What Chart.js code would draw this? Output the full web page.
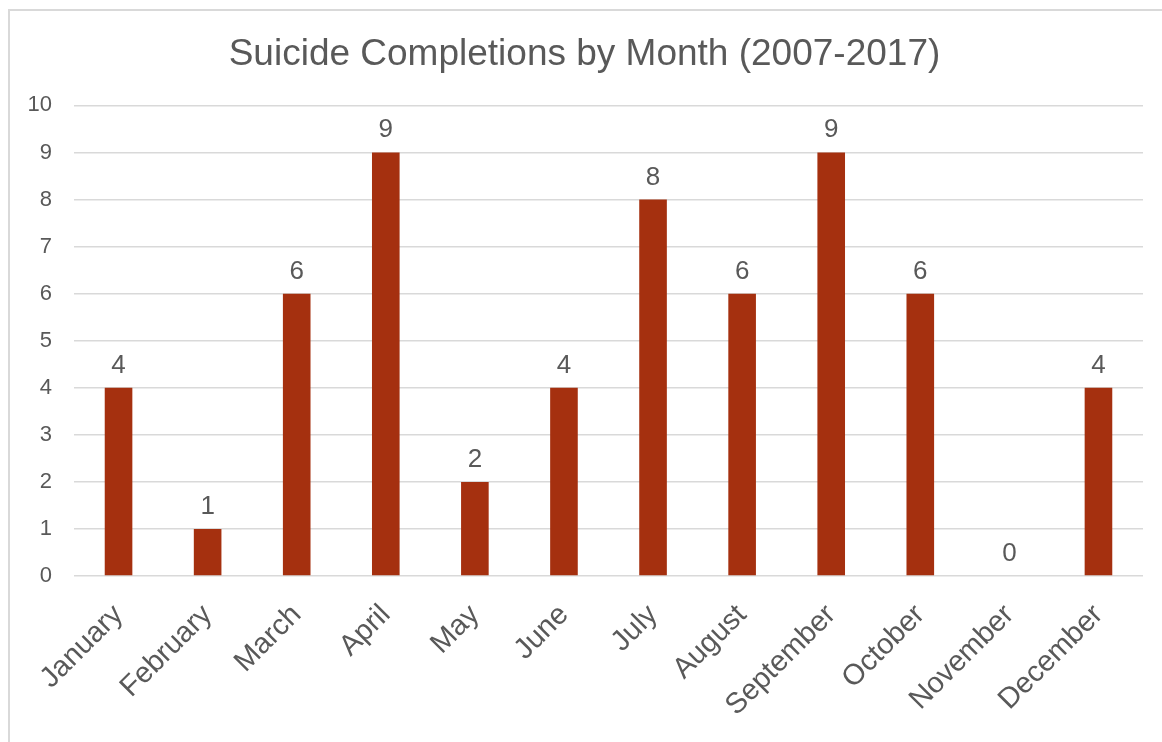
<!DOCTYPE html>
<html>
<head>
<meta charset="utf-8">
<title>Suicide Completions by Month</title>
<script src="https://cdn.jsdelivr.net/npm/chart.js@4/dist/chart.umd.min.js"></script>
<style>
    html, body { margin: 0; padding: 0; background: #fff; }
    #marco {
        position: absolute; left: 8px; top: 9px; width: 1170px; height: 760px;
        border-left: 2px solid #d9d9d9; border-top: 2px solid #d9d9d9;
    }
    #grafico { position: absolute; left: 0; top: 0; }
</style>
</head>
<body>
<div id="marco"></div>
<canvas id="grafico" width="1162" height="742"></canvas>
<script>
// ── Datos ─────────────────────────────────────────────────────────────────
var months = ['January', 'February', 'March', 'April', 'May', 'June',
              'July', 'August', 'September', 'October', 'November', 'December'];
var completions = [4, 1, 6, 9, 2, 4, 8, 6, 9, 6, 0, 4];
var yMin = 0, yMax = 10, yStep = 1;

var FUENTE = '"Liberation Sans", Arial, Helvetica, sans-serif';
var GRIS_TXT = '#595959';

// ── Etiquetas encima de cada barra ────────────────────────────────────────
var etiquetasBarras = {
    id: 'etiquetasBarras',
    afterDatasetsDraw: function (chart) {
        var ctx = chart.ctx;
        var meta = chart.getDatasetMeta(0);
        ctx.save();
        ctx.fillStyle = GRIS_TXT;
        ctx.font = '26px ' + FUENTE;
        ctx.textAlign = 'center';
        ctx.textBaseline = 'alphabetic';
        meta.data.forEach(function (bar, i) {
            ctx.fillText(String(completions[i]), bar.x, bar.y - 15);
        });
        ctx.restore();
    }
};

new Chart(document.getElementById('grafico').getContext('2d'), {
    type: 'bar',
    data: {
        labels: months,
        datasets: [{
            label: 'Completions',
            data: completions,
            backgroundColor: '#A5300F',
            borderWidth: 0,
            barPercentage: 0.31,
            categoryPercentage: 1
        }]
    },
    options: {
        responsive: false,
        animation: false,
        // padding izquierdo: acerca el centro del título al del original
        layout: { padding: { left: 26, right: 19, top: 0, bottom: 0 } },
        plugins: {
            legend: { display: false },
            tooltip: { enabled: false },
            title: {
                display: true,
                text: 'Suicide Completions by Month (2007-2017)',
                color: GRIS_TXT,
                font: { family: FUENTE, size: 37, weight: 'normal' },
                padding: { top: 33, bottom: 28 }
            }
        },
        scales: {
            x: {
                grid: { display: false, drawTicks: false },
                border: { display: false },
                ticks: {
                    color: GRIS_TXT,
                    font: { family: FUENTE, size: 29 },
                    minRotation: 45,
                    maxRotation: 45,
                    padding: 22
                },
                afterFit: function (s) { s.height = 166; }
            },
            y: {
                min: yMin,
                max: yMax,
                grid: { color: '#d9d9d9', lineWidth: 1.5, drawTicks: false },
                border: { display: false },
                ticks: {
                    stepSize: yStep,
                    color: GRIS_TXT,
                    font: { family: FUENTE, size: 22 },
                    padding: 22
                },
                afterFit: function (s) { s.width = 48; }
            }
        }
    },
    plugins: [etiquetasBarras]
});
</script>
</body>
</html>
